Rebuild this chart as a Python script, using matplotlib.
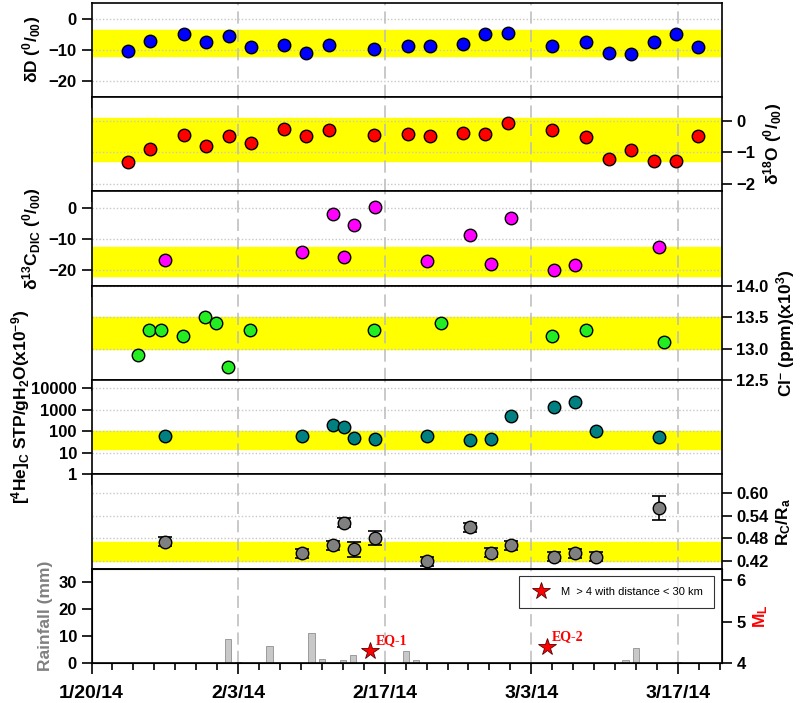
import numpy as np
import matplotlib
matplotlib.use('Agg')
import matplotlib.pyplot as plt
from matplotlib.ticker import FixedLocator, FixedFormatter, MultipleLocator, FormatStrFormatter, NullFormatter

plt.rcParams['font.family'] = ['Liberation Sans', 'DejaVu Sans']
plt.rcParams['font.weight'] = 'bold'
plt.rcParams['mathtext.fontset'] = 'custom'
plt.rcParams['mathtext.rm'] = 'Liberation Sans:bold'
plt.rcParams['mathtext.bf'] = 'Liberation Sans:bold'
plt.rcParams['mathtext.it'] = 'Liberation Sans:bold'
plt.rcParams['mathtext.default'] = 'bf'

# days since 1/20/14
dD_days = [3.5, 5.6, 8.8, 10.9, 13.1, 15.2, 18.4, 20.5, 22.7, 27.0, 30.2,
           32.3, 35.5, 37.6, 39.8, 44.0, 47.2, 49.4, 51.5, 53.7, 55.8, 57.9]
dD_vals = [-10.2, -7.0, -5.0, -7.5, -5.5, -9.2, -8.3, -10.9, -8.3, -9.7, -8.7,
           -8.7, -8.0, -5.0, -4.5, -8.6, -7.4, -11.0, -11.3, -7.6, -5.0, -9.1]
d18O_vals = [-1.30, -0.89, -0.45, -0.81, -0.49, -0.70, -0.26, -0.47, -0.28, -0.44, -0.41,
             -0.47, -0.37, -0.42, -0.05, -0.28, -0.52, -1.22, -0.92, -1.26, -1.26, -0.49]

c13_days = [7.0, 20.1, 23.05, 24.1, 25.05, 27.05, 32.05, 36.1, 38.15, 40.1, 44.15, 46.15, 54.2]
c13_vals = [-16.8, -14.2, -2.0, -15.7, -5.7, 0.1, -17.1, -8.7, -17.9, -3.3, -19.9, -18.3, -12.6]

cl_days = [4.4, 5.5, 6.6, 8.7, 10.8, 11.9, 13.0, 15.1, 27.0, 33.35, 44.0, 47.2, 54.7]
cl_vals = [12.9, 13.3, 13.3, 13.2, 13.5, 13.4, 12.7, 13.3, 13.3, 13.4, 13.2, 13.3, 13.1]

he_days = [7.0, 20.1, 23.05, 24.1, 25.05, 27.05, 32.05, 36.1, 38.15, 40.1, 44.15, 46.15, 48.2, 54.2]
he_vals = [61, 61, 195, 164, 47, 44, 59, 38, 44, 510, 1320, 2240, 100, 55]

rc_vals = [0.471, 0.441, 0.462, 0.522, 0.451, 0.482, 0.420, 0.510, 0.442, 0.462,
           0.431, 0.441, 0.431, 0.561]
rc_err = [0.012, 0.012, 0.012, 0.012, 0.020, 0.019, 0.012, 0.012, 0.012, 0.012,
          0.012, 0.012, 0.012, 0.031]

rain_days = [13, 14, 17, 21, 22, 24, 25, 26, 30, 31, 51, 52, 56]
rain_mm = [9.0, 0.4, 6.4, 11.0, 1.5, 1.1, 3.0, 0.4, 4.5, 1.1, 1.1, 5.5, 0.3]

eq_days = [26.6, 43.45]
eq_ml = [4.28, 4.39]
eq_names = ['EQ-1', 'EQ-2']

date_ticks = [0, 14, 28, 42, 56]
date_labels = ['1/20/14', '2/3/14', '2/17/14', '3/3/14', '3/17/14']

fig = plt.figure(figsize=(8.03, 7.03), dpi=100)
gs = fig.add_gridspec(7, 1, hspace=0, left=0.114, right=0.899, top=0.996, bottom=0.057)
axes = [fig.add_subplot(gs[i]) for i in range(7)]

grid_col = '#C8C8C8'
lab_fs = 12.5


def bold_ticks(ax):
    for t in ax.get_xticklabels() + ax.get_yticklabels():
        t.set_fontweight('bold')


def base(ax, side):
    ax.set_xlim(0, 60.2)
    ax.xaxis.set_major_locator(FixedLocator(date_ticks))
    ax.xaxis.set_minor_locator(MultipleLocator(2))
    ax.xaxis.set_major_formatter(NullFormatter())
    ax.tick_params(axis='x', which='major', direction='out', length=8, width=1.2)
    ax.tick_params(axis='x', which='minor', direction='out', length=5, width=1.2)
    ax.tick_params(axis='y', direction='out', length=7, width=1.2, labelsize=12)
    if side == 'right':
        ax.yaxis.tick_right()
        ax.yaxis.set_label_position('right')
    for s in ax.spines.values():
        s.set_linewidth(1.2)
    for d in date_ticks[1:]:
        ax.axvline(d, color='#BBBBBB', lw=1.1, dashes=(8, 4), zorder=1)
    ax.yaxis.grid(True, which='major', color=grid_col, ls=(0, (1, 1.5)), lw=1, zorder=1)
    ax.set_axisbelow(True)


def pts(ax, x, y, color):
    ax.plot(x, y, 'o', ms=9, mfc=color, mec='black', mew=1, zorder=4)


# delta D
ax = axes[0]
base(ax, 'left')
ax.axhspan(-11.8, -3.6, color='#FFFF00', zorder=0)
pts(ax, dD_days, dD_vals, '#0000FF')
ax.set_ylim(-25, 5)
ax.set_yticks([0, -10, -20])
ax.set_ylabel(r'$\delta$D ($^{0}$/$_{00}$)', fontsize=lab_fs, fontweight='bold')

# delta 18O
ax = axes[1]
base(ax, 'right')
ax.axhspan(-1.29, 0.11, color='#FFFF00', zorder=0)
pts(ax, dD_days, d18O_vals, '#FF0000')
ax.set_ylim(-2.25, 0.77)
ax.set_yticks([0, -1, -2])
ax.set_ylabel(r'$\delta^{18}$O ($^{0}$/$_{00}$)', fontsize=lab_fs, fontweight='bold')

# delta 13C
ax = axes[2]
base(ax, 'left')
ax.axhspan(-21.9, -12.6, color='#FFFF00', zorder=0)
pts(ax, c13_days, c13_vals, '#FF00FF')
ax.set_ylim(-25, 5.2)
ax.set_yticks([0, -10, -20])
ax.set_ylabel(r'$\delta^{13}$C$_{DIC}$ ($^{0}$/$_{00}$)', fontsize=lab_fs, fontweight='bold')

# chloride
ax = axes[3]
base(ax, 'right')
ax.axhspan(13.0, 13.5, color='#FFFF00', zorder=0)
pts(ax, cl_days, cl_vals, '#22EE22')
ax.set_ylim(12.5, 14.0)
ax.set_yticks([12.5, 13.0, 13.5, 14.0])
ax.yaxis.set_major_formatter(FormatStrFormatter('%.1f'))
ax.set_ylabel('Cl$^{-}$ (ppm)(x10$^{3}$)', fontsize=lab_fs, fontweight='bold')

# helium
ax = axes[4]
base(ax, 'left')
ax.set_yscale('log')
ax.axhspan(14.3, 100, color='#FFFF00', zorder=0)
pts(ax, he_days, he_vals, '#008080')
ax.set_ylim(1, 24000)
ax.set_yticks([1, 10, 100, 1000, 10000])
ax.set_yticklabels(['1', '10', '100', '1000', '10000'])
ax.yaxis.set_minor_locator(FixedLocator([]))
ax.set_ylabel('[$^{4}$He]$_{C}$ STP/gH$_{2}$O(x10$^{-9}$)', fontsize=lab_fs, fontweight='bold')
ax.yaxis.set_label_coords(-0.094, 0.72)

# Rc/Ra
ax = axes[5]
base(ax, 'right')
ax.axhspan(0.42, 0.47, color='#FFFF00', zorder=0)
ax.errorbar(he_days, rc_vals, yerr=rc_err, fmt='none', ecolor='black', elinewidth=1.2,
            capsize=5, capthick=1.2, zorder=3)
pts(ax, he_days, rc_vals, '#808080')
ax.set_ylim(0.40, 0.65)
ax.set_yticks([0.42, 0.48, 0.54, 0.60])
ax.yaxis.set_major_formatter(FormatStrFormatter('%.2f'))
ax.set_ylabel('R$_{C}$/R$_{a}$', fontsize=lab_fs, fontweight='bold')

# rainfall + earthquakes
ax = axes[6]
base(ax, 'left')
ax.yaxis.grid(False)
ax.bar(rain_days, rain_mm, width=0.6, color='#C8C8C8', edgecolor='#909090', lw=0.6, zorder=2)
ax.set_ylim(0, 35)
ax.set_yticks([0, 10, 20, 30])
ax.set_ylabel('Rainfall (mm)', fontsize=lab_fs, color='#808080', fontweight='bold')
ax.xaxis.set_major_formatter(FixedFormatter(date_labels))
ax.tick_params(axis='x', which='major', labelsize=14, pad=8)

ax2 = ax.twinx()
ax2.set_xlim(0, 60.2)
ax2.set_ylim(4, 6.28)
ax2.set_yticks([4, 5, 6])
ax2.tick_params(axis='y', direction='out', length=7, width=1.2, labelsize=12)
ax2.set_ylabel('M$_{L}$', fontsize=lab_fs, color='red', fontweight='bold')
ax2.plot(eq_days, eq_ml, '*', ms=13, mfc='red', mec='#550000', mew=0.6, ls='none',
         zorder=5, label='M  > 4 with distance < 30 km')
for d, m, n in zip(eq_days, eq_ml, eq_names):
    ax2.annotate(n, (d, m), xytext=(4, 5), textcoords='offset points', color='red',
                 fontsize=10, fontweight='bold', family='Liberation Serif')
leg = ax2.legend(loc='upper right', frameon=True, fancybox=False,
                 edgecolor='black', borderpad=1.0, handletextpad=0.8,
                 bbox_to_anchor=(0.997, 0.985), prop={'weight': 'normal', 'size': 8})
leg.get_frame().set_linewidth(0.8)

for a in axes + [ax2]:
    bold_ticks(a)

fig.savefig('out.png', dpi=100)
